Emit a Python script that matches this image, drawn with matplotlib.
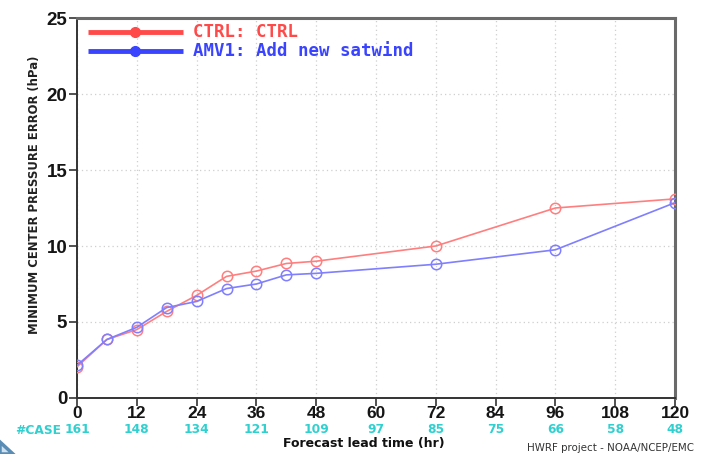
import matplotlib
matplotlib.use("Agg")
import matplotlib.pyplot as plt
from matplotlib import font_manager
from matplotlib.patches import Polygon

# Forecast lead times (hr) and minimum central pressure errors (hPa)
lead_hours = [0, 6, 12, 18, 24, 30, 36, 42, 48, 72, 96, 120]
ctrl_err = [2.05, 3.85, 4.5, 5.7, 6.75, 8.0, 8.35, 8.85, 9.0, 10.0, 12.5, 13.1]
amv1_err = [2.15, 3.85, 4.65, 5.95, 6.35, 7.2, 7.5, 8.1, 8.2, 8.8, 9.75, 12.85]

# Tick positions and number of verifying cases
tick_hours = [0, 12, 24, 36, 48, 60, 72, 84, 96, 108, 120]
case_counts = [161, 148, 134, 121, 109, 97, 85, 75, 66, 58, 48]
y_ticks = [0, 5, 10, 15, 20, 25]

series_labels = ["CTRL: CTRL", "AMV1: Add new satwind"]

installed = {f.name for f in font_manager.fontManager.ttflist}
narrow = "Liberation Sans Narrow" if "Liberation Sans Narrow" in installed else "DejaVu Sans"
sans = "Liberation Sans" if "Liberation Sans" in installed else "DejaVu Sans"
narrow_scale = 1.0 if narrow == "Liberation Sans Narrow" else 0.8

W, H = 703, 454
fig = plt.figure(figsize=(W / 100, H / 100), dpi=100)
ax = fig.add_axes([77 / W, 1 - 398 / H, (675 - 77) / W, (398 - 18) / H])

red_line = "#ff7f7f"
blue_line = "#7f7fff"
ax.plot(lead_hours, ctrl_err, color=red_line, lw=1.2, marker="o", ms=7.5,
        mfc="none", mec=red_line, mew=1.1, zorder=3)
ax.plot(lead_hours, amv1_err, color=blue_line, lw=1.2, marker="o", ms=7.5,
        mfc="none", mec=blue_line, mew=1.1, zorder=3)

ax.set_xlim(0, 120)
ax.set_ylim(0, 25)
ax.set_xticks(tick_hours)
ax.set_yticks(y_ticks)
ax.set_xticklabels([str(t) for t in tick_hours], fontsize=12.5, family=sans,
                   fontweight="bold")
ax.set_yticklabels([str(t) for t in y_ticks], fontsize=13.5, family=sans,
                   fontweight="bold")
ax.tick_params(axis="both", direction="out", length=6, width=1.2, color="#333333",
               labelcolor="#151515")
ax.tick_params(axis="x", pad=0)
ax.tick_params(axis="y", pad=1)

ax.grid(True, color="#cfcfcf", linestyle=(0, (1, 2.5)), lw=0.9)
for side in ["top", "right"]:
    ax.spines[side].set_color("#6a6a6a")
    ax.spines[side].set_linewidth(2.2)
for side in ["left", "bottom"]:
    ax.spines[side].set_color("#333333")
    ax.spines[side].set_linewidth(1.4)

fig.text(35 / W, 1 - 195 / H, "MINIMUM CENTER PRESSURE ERROR (hPa)",
         rotation=90, fontsize=10.5 * narrow_scale, family=narrow,
         fontweight="bold", color="#222222", ha="center", va="center")

# Legend drawn in axes space
legend_rows = [("#ff4a4a", series_labels[0], 0.963),
               ("#3a44ff", series_labels[1], 0.913)]
for col, txt, yy in legend_rows:
    ax.plot([0.018, 0.177], [yy, yy], transform=ax.transAxes, color=col,
            lw=3.5, solid_capstyle="butt", zorder=4, clip_on=False)
    ax.plot([0.097], [yy], transform=ax.transAxes, marker="o", ms=7,
            color=col, mfc=col, zorder=5, clip_on=False)
    ax.text(0.194, yy, txt, transform=ax.transAxes, color=col, fontsize=12.5,
            fontweight="bold", family="DejaVu Sans Mono", va="center", ha="left")

# Case counts under each tick
case_col = "#30d0d0"
for hr, n in zip(tick_hours, case_counts):
    ax.text(hr, -0.084, str(n), transform=ax.get_xaxis_transform(),
            ha="center", va="center", color=case_col, fontsize=11 * narrow_scale,
            family=narrow, fontweight="bold")
fig.text(15 / W, 1 - 430 / H, "#CASE", color=case_col, fontsize=11 * narrow_scale,
         family=narrow, fontweight="bold", ha="left", va="center")

fig.text(364 / W, 1 - 443 / H, "Forecast lead time (hr)", fontsize=9,
         fontweight="bold", color="#111111", ha="center", va="center")
fig.text(694 / W, 1 - 448 / H, "HWRF project - NOAA/NCEP/EMC", fontsize=7.4,
         color="#333333", ha="right", va="center")

# Corner accent
fig.patches.append(Polygon([(0, 0), (0, 12 / H), (13 / W, 0)], closed=True,
                           transform=fig.transFigure, facecolor="#cfe0ee",
                           edgecolor="#5a8db5", lw=2.5))

fig.savefig("out.png", dpi=100)
